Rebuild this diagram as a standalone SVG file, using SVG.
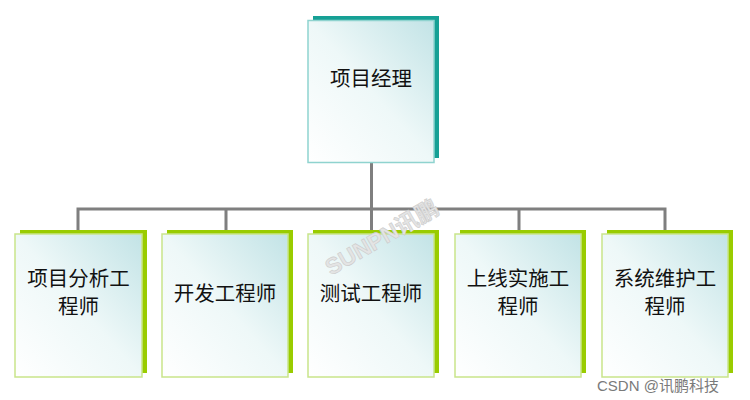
<svg xmlns="http://www.w3.org/2000/svg" width="750" height="400" viewBox="0 0 750 400">
<defs>
<linearGradient id="g" x1="0" y1="1" x2="1" y2="0">
<stop offset="0" stop-color="#ffffff"/>
<stop offset="0.5" stop-color="#eef8f8"/>
<stop offset="1" stop-color="#c2e3e6"/>
</linearGradient>
</defs>
<style>
.lbl{font-family:"Noto Sans CJK SC","Noto Sans",sans-serif;font-size:20.5px;fill:#111;text-anchor:middle}
.sg{fill:#99cc00}
.st{fill:#16a095}
.fg{fill:url(#g);stroke:#c9e58a;stroke-width:1.5}
.ft{fill:url(#g);stroke:#8fd3cf;stroke-width:1.5}
.con{stroke:#7f7f7f;stroke-width:3;fill:none}
.wm{font-family:"Liberation Sans","Noto Sans CJK SC",sans-serif;font-weight:bold;font-size:23px;fill:#e4e4e4;stroke:#cccccc;stroke-width:0.6}
</style>
<rect width="750" height="400" fill="#ffffff"/>
<g id="connectors">
<path class="con" d="M371.5 163 V209 M78 231 V209 H665 V231 M226 209 V231 M371.5 209 V231 M519 209 V231"/>
</g>
<g id="n0">
<rect class="st" x="313" y="16" width="126" height="142"/>
<rect class="ft" x="308" y="20.5" width="126" height="142"/>
<text class="lbl" x="371" y="85.5">项目经理</text>
</g>
<g id="n1">
<rect class="sg" x="20" y="230" width="127" height="143"/>
<rect class="fg" x="15" y="234" width="127" height="143"/>
<text class="lbl" x="78.5" y="286">项目分析工</text>
<text class="lbl" x="78.5" y="314">程师</text>
</g>
<g id="n2">
<rect class="sg" x="167" y="230" width="126" height="143"/>
<rect class="fg" x="162" y="234" width="126" height="143"/>
<text class="lbl" x="225" y="300.5">开发工程师</text>
</g>
<g id="n3">
<rect class="sg" x="313" y="230" width="126" height="143"/>
<rect class="fg" x="308" y="234" width="126" height="143"/>
<text class="lbl" x="371" y="300.5">测试工程师</text>
</g>
<g id="n4">
<rect class="sg" x="460" y="230" width="126" height="143"/>
<rect class="fg" x="455" y="234" width="126" height="143"/>
<text class="lbl" x="518" y="286">上线实施工</text>
<text class="lbl" x="518" y="314">程师</text>
</g>
<g id="n5">
<rect class="sg" x="607" y="230" width="126" height="143"/>
<rect class="fg" x="602" y="234" width="126" height="143"/>
<text class="lbl" x="665" y="286">系统维护工</text>
<text class="lbl" x="665" y="314">程师</text>
</g>
<text class="wm" transform="translate(331 276) rotate(-30)">SUNPN讯鹏</text>
<text x="597" y="391" style="font-family:'Liberation Sans','Noto Sans CJK SC',sans-serif;font-size:15px;fill:#7a7a7a">CSDN @讯鹏科技</text>
</svg>
